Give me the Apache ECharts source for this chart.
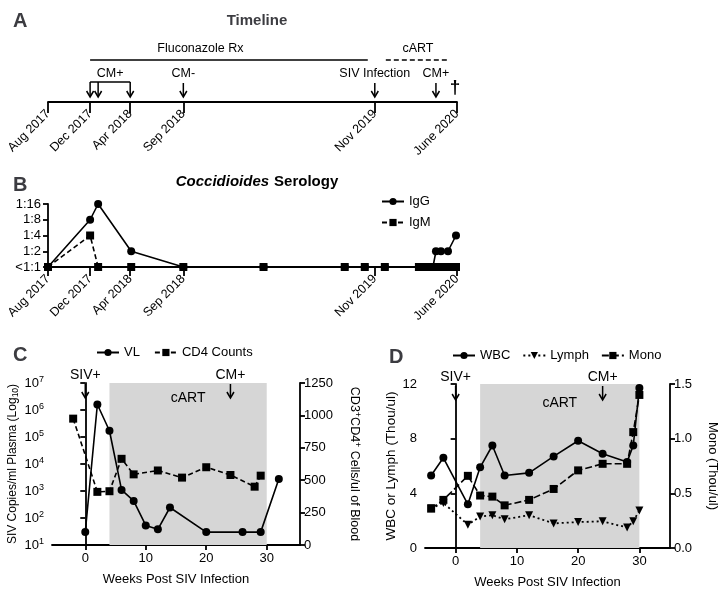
<!DOCTYPE html>
<html>
<head>
<meta charset="utf-8" />
<script src="https://cdn.jsdelivr.net/npm/echarts@6/dist/echarts.min.js"></script>
<style>
  html, body, #main { margin: 0; padding: 0; width: 722px; height: 591px; background: #fff; overflow: hidden; }
</style>
</head>
<body>
<div id="main"></div>
<script>
// ---- panel A / B : timeline positions (Aug 2017 = 0, June 2020 = 408) ----
var timelineTicks = [0, 42, 82, 135, 326, 408];
var timelineLabels = ['Aug 2017', 'Dec 2017', 'Apr 2018', 'Sep 2018', 'Nov 2019', 'June 2020'];
var rxSpans = [[42, 319], [337, 400]];
var rxLabels = ['Fluconazole Rx', 'cART'];
var rxLabelPos = [152, 369];
var cmPosGroup = [42, 50, 82];
var cmPosGroupLabel = 'CM+';
var singleEvents = [135, 326, 387];
var singleEventLabels = ['CM-', 'SIV Infection', 'CM+'];
var deathPos = 406;

// ---- panel B : serology ----
var titerLabels = ['<1:1', '1:2', '1:4', '1:8', '1:16'];
var iggX = [0, 42, 50, 83, 135, 215, 296, 316, 336, 370, 375, 380, 384, 387, 392, 399, 407];
var iggTiter = [0, 3, 4, 1, 0, 0, 0, 0, 0, 0, 0, 0, 0, 1, 1, 1, 2];
var igmX = [0, 42, 50, 83, 135, 215, 296, 316, 336, 370, 374, 378, 382, 386, 390, 394, 398, 402, 407];
var igmTiter = [0, 2, 0, 0, 0, 0, 0, 0, 0, 0, 0, 0, 0, 0, 0, 0, 0, 0, 0];

// ---- panel C : viral load and CD4 ----
var vlWeeks = [0, 2, 4, 6, 8, 10, 12, 14, 20, 26, 29, 32];
var vlCopies = [30, 1.6e6, 1.7e5, 1100, 430, 53, 38, 245, 30, 30, 30, 2800];
var cd4Weeks = [-2, 2, 4, 6, 8, 12, 16, 20, 24, 28, 29];
var cd4Counts = [975, 410, 415, 665, 545, 575, 520, 600, 540, 450, 535];

// ---- panel D : blood counts ----
var cbcWeeks = [-4, -2, 2, 4, 6, 8, 12, 16, 20, 24, 28, 29, 30];
var wbc = [5.3, 6.6, 3.2, 5.9, 7.5, 5.3, 5.5, 6.7, 7.85, 6.9, 6.3, 7.5, 11.7];
var lymph = [2.9, 3.3, 1.7, 2.3, 2.4, 2.1, 2.4, 1.8, 1.9, 1.95, 1.5, 1.95, 2.75];
var mono = [0.36, 0.44, 0.66, 0.48, 0.47, 0.39, 0.44, 0.54, 0.71, 0.77, 0.77, 1.06, 1.40];

var cartWeeks = [4, 30];
var eventWeeks = [0, 24];
var eventLabels = ['SIV+', 'CM+'];
var weekTicks = [0, 10, 20, 30];

var FONT = '"Liberation Sans", Arial, Helvetica, sans-serif';
var myChart = echarts.init(document.getElementById('main'));

function zip(xs, ys) {
  return xs.map(function (x, i) { return [x, ys[i]]; });
}

function arrow(x, y1, y2) {
  // vertical arrow pointing down
  return [
    { type: 'line', shape: { x1: x, y1: y1, x2: x, y2: y2 - 1 }, style: { stroke: '#000', lineWidth: 1.5 } },
    { type: 'polyline', shape: { points: [[x - 3.5, y2 - 6], [x, y2], [x + 3.5, y2 - 6]] }, style: { stroke: '#000', lineWidth: 1.5, fill: null } }
  ];
}

function txt(s, x, y, size, extra) {
  var st = { text: s, x: x, y: y, align: 'center', verticalAlign: 'middle', fill: '#000', font: size + 'px ' + FONT };
  if (extra) for (var k in extra) st[k] = extra[k];
  return { type: 'text', style: st };
}

var blackLine = { color: '#000', width: 1.8 };

function sup(n) { return '{b|10}{e|' + n + '}'; }

var option = {
  animation: false,
  backgroundColor: '#fff',
  textStyle: { fontFamily: FONT, color: '#000' },
  title: [
    { text: 'A', left: 8, top: 6, textStyle: { fontSize: 20, fontWeight: 'bold', fontFamily: FONT } },
    { text: 'Timeline', left: 252, top: 8, textAlign: 'center', textStyle: { fontSize: 15, fontWeight: 'bold', fontFamily: FONT } },
    { text: 'B', left: 8, top: 170, textStyle: { fontSize: 20, fontWeight: 'bold', fontFamily: FONT } },
    { text: '{i|Coccidioides} {b|Serology}', left: 252, top: 168, textAlign: 'center',
      textStyle: { rich: {
        i: { fontSize: 15, fontWeight: 'bold', fontStyle: 'italic', fontFamily: FONT },
        b: { fontSize: 15, fontWeight: 'bold', fontFamily: FONT } } } },
    { text: 'C', left: 8, top: 340, textStyle: { fontSize: 20, fontWeight: 'bold', fontFamily: FONT } },
    { text: 'D', left: 384, top: 342, textStyle: { fontSize: 20, fontWeight: 'bold', fontFamily: FONT } }
  ],
  legend: [
    { data: ['IgG', 'IgM'], orient: 'vertical', left: 376, top: 190, itemWidth: 22, itemHeight: 9, itemGap: 8,
      textStyle: { fontSize: 13, fontFamily: FONT, color: '#000' } },
    { data: ['VL', 'CD4 Counts'], left: 91, top: 341, itemWidth: 22, itemHeight: 9, itemGap: 14,
      textStyle: { fontSize: 13, fontFamily: FONT, color: '#000' } },
    { data: ['WBC', 'Lymph', 'Mono'], left: 447, top: 344, itemWidth: 22, itemHeight: 9, itemGap: 12,
      textStyle: { fontSize: 13, fontFamily: FONT, color: '#000' } }
  ],
  grid: [
    { left: 48, width: 409, top: 40, height: 62 },
    { left: 48, width: 409, top: 204, height: 63 },
    { left: 52, width: 248, top: 383, height: 162 },
    { left: 425, width: 245, top: 384, height: 164 }
  ],
  xAxis: [
    { gridIndex: 0, type: 'value', min: 0, max: 408, axisLine: { show: true, lineStyle: blackLine },
      axisTick: { show: true, length: 11, customValues: timelineTicks, lineStyle: blackLine },
      axisLabel: { customValues: timelineTicks, rotate: 45, margin: 10, color: '#000', fontFamily: FONT, fontSize: 12.5,
        formatter: function (v) { return timelineLabels[timelineTicks.indexOf(v)]; } },
      splitLine: { show: false } },
    { gridIndex: 1, type: 'value', min: 0, max: 408, axisLine: { show: true, onZero: false, lineStyle: blackLine },
      axisTick: { show: true, length: 9, customValues: timelineTicks, lineStyle: blackLine },
      axisLabel: { customValues: timelineTicks, rotate: 45, margin: 10, color: '#000', fontFamily: FONT, fontSize: 12.5,
        formatter: function (v) { return timelineLabels[timelineTicks.indexOf(v)]; } },
      splitLine: { show: false } },
    { gridIndex: 2, type: 'value', min: -5.5, max: 35.5, axisLine: { show: true, onZero: false, lineStyle: blackLine },
      axisTick: { show: true, length: 5, customValues: weekTicks, lineStyle: blackLine },
      axisLabel: { customValues: weekTicks, margin: 7, color: '#000', fontFamily: FONT, fontSize: 13 },
      splitLine: { show: false },
      name: 'Weeks Post SIV Infection', nameLocation: 'middle', nameGap: 28,
      nameTextStyle: { fontSize: 13, fontFamily: FONT, color: '#000' } },
    { gridIndex: 3, type: 'value', min: -5, max: 35, axisLine: { show: true, onZero: false, lineStyle: blackLine },
      axisTick: { show: true, length: 5, customValues: weekTicks, lineStyle: blackLine },
      axisLabel: { customValues: weekTicks, margin: 7, color: '#000', fontFamily: FONT, fontSize: 13 },
      splitLine: { show: false },
      name: 'Weeks Post SIV Infection', nameLocation: 'middle', nameGap: 28,
      nameTextStyle: { fontSize: 13, fontFamily: FONT, color: '#000' } }
  ],
  yAxis: [
    { gridIndex: 0, type: 'value', min: 0, max: 62, show: false },
    { gridIndex: 1, type: 'value', min: 0, max: 4, interval: 1,
      axisLine: { show: true, lineStyle: blackLine }, axisTick: { show: true, length: 5, lineStyle: blackLine },
      axisLabel: { margin: 7, color: '#000', fontFamily: FONT, fontSize: 13, formatter: function (v) { return titerLabels[v]; } },
      splitLine: { show: false } },
    { gridIndex: 2, type: 'log', logBase: 10, min: 10, max: 1e7, interval: 1,
      axisLine: { show: true, lineStyle: blackLine }, axisTick: { show: true, length: 5, lineStyle: blackLine },
      axisLabel: { margin: 8, formatter: function (v) { return sup(Math.round(Math.log10(v))); },
        rich: { b: { fontSize: 13, fontFamily: FONT, color: '#000', lineHeight: 16 },
                e: { fontSize: 9, fontFamily: FONT, color: '#000', verticalAlign: 'top', lineHeight: 16 } } },
      splitLine: { show: false },
      name: 'SIV Copies/ml Plasma (Log{s|10})', nameLocation: 'middle', nameGap: 31, nameRotate: 90,
      nameTextStyle: { fontSize: 12, fontFamily: FONT, color: '#000',
        rich: { s: { fontSize: 8.5, fontFamily: FONT, color: '#000', verticalAlign: 'bottom', lineHeight: 15 } } } },
    { gridIndex: 2, type: 'value', position: 'right', min: 0, max: 1250, interval: 250,
      axisLine: { show: true, lineStyle: blackLine }, axisTick: { show: true, length: 5, lineStyle: blackLine },
      axisLabel: { margin: 4, color: '#000', fontFamily: FONT, fontSize: 13, formatter: function (v) { return String(v); } },
      splitLine: { show: false },
      name: '{n|CD3}{s|+}{n|CD4}{s|+}{n| Cells/ul of Blood}', nameLocation: 'middle', nameGap: 46, nameRotate: -90,
      nameTextStyle: { rich: {
        n: { fontSize: 12.5, fontFamily: FONT, color: '#000', lineHeight: 16 },
        s: { fontSize: 9, fontFamily: FONT, color: '#000', verticalAlign: 'top', lineHeight: 16 } } } },
    { gridIndex: 3, type: 'value', min: 0, max: 12, interval: 4,
      axisLine: { show: true, lineStyle: blackLine }, axisTick: { show: true, length: 5, lineStyle: blackLine },
      axisLabel: { margin: 8, color: '#000', fontFamily: FONT, fontSize: 13 },
      splitLine: { show: false },
      name: 'WBC or Lymph (Thou/ul)', nameLocation: 'middle', nameGap: 23, nameRotate: 90,
      nameTextStyle: { fontSize: 13.5, fontFamily: FONT, color: '#000' } },
    { gridIndex: 3, type: 'value', position: 'right', min: 0, max: 1.5, interval: 0.5,
      axisLine: { show: true, lineStyle: blackLine }, axisTick: { show: true, length: 5, lineStyle: blackLine },
      axisLabel: { margin: 4, color: '#000', fontFamily: FONT, fontSize: 13, formatter: function (v) { return v.toFixed(1); } },
      splitLine: { show: false },
      name: 'Mono (Thou/ul)', nameLocation: 'middle', nameGap: 36, nameRotate: -90,
      nameTextStyle: { fontSize: 13, fontFamily: FONT, color: '#000' } }
  ],
  series: [
    // ---- A: treatment bars ----
    { type: 'custom', xAxisIndex: 0, yAxisIndex: 0, clip: false, silent: true,
      data: rxSpans.map(function (s, i) { return [s[0], s[1], i]; }),
      renderItem: function (params, api) {
        var i = api.value(2);
        var a = api.coord([api.value(0), 42]);
        var b = api.coord([api.value(1), 42]);
        var c = api.coord([rxLabelPos[i], 42]);
        return { type: 'group', children: [
          { type: 'line', shape: { x1: a[0], y1: a[1], x2: b[0], y2: b[1] },
            style: { stroke: '#000', lineWidth: 1.6, lineDash: i === 1 ? [5, 3] : null } },
          txt(rxLabels[i], c[0], a[1] - 11, 12.5)
        ] };
      } },
    // ---- A: grouped CM+ arrows with bracket ----
    { type: 'custom', xAxisIndex: 0, yAxisIndex: 0, clip: false, silent: true,
      data: [[cmPosGroup[0], cmPosGroup[cmPosGroup.length - 1]]],
      renderItem: function (params, api) {
        var kids = [];
        var l = api.coord([api.value(0), 20]);
        var r = api.coord([api.value(1), 20]);
        kids.push({ type: 'line', shape: { x1: l[0], y1: l[1], x2: r[0], y2: r[1] }, style: { stroke: '#000', lineWidth: 1.5 } });
        cmPosGroup.forEach(function (x) {
          var t = api.coord([x, 20]);
          var bt = api.coord([x, 5]);
          kids = kids.concat(arrow(t[0], t[1], bt[1]));
        });
        kids.push(txt(cmPosGroupLabel, (l[0] + r[0]) / 2, api.coord([0, 28])[1], 12.5));
        return { type: 'group', children: kids };
      } },
    // ---- A: single event arrows ----
    { type: 'custom', xAxisIndex: 0, yAxisIndex: 0, clip: false, silent: true,
      data: singleEvents.map(function (x, i) { return [x, i]; }),
      renderItem: function (params, api) {
        var t = api.coord([api.value(0), 19]);
        var bt = api.coord([api.value(0), 5]);
        var lb = api.coord([api.value(0), 28]);
        return { type: 'group', children: arrow(t[0], t[1], bt[1]).concat([txt(singleEventLabels[api.value(1)], lb[0], lb[1], 12.5)]) };
      } },
    // ---- A: death ----
    { type: 'custom', xAxisIndex: 0, yAxisIndex: 0, clip: false, silent: true,
      data: [[deathPos, 14]],
      renderItem: function (params, api) {
        var p = api.coord([api.value(0), api.value(1)]);
        return txt('\u2020', p[0], p[1], 19, { font: 'bold 19px ' + FONT });
      } },
    // ---- B ----
    { name: 'IgG', type: 'line', xAxisIndex: 1, yAxisIndex: 1, data: zip(iggX, iggTiter),
      symbol: 'circle', symbolSize: 8, itemStyle: { color: '#000' }, lineStyle: { color: '#000', width: 1.6 } },
    { name: 'IgM', type: 'line', xAxisIndex: 1, yAxisIndex: 1, data: zip(igmX, igmTiter),
      symbol: 'rect', symbolSize: 8, itemStyle: { color: '#000' }, lineStyle: { color: '#000', width: 1.6, type: [5, 3] } },
    // ---- C ----
    { name: 'VL', type: 'line', xAxisIndex: 2, yAxisIndex: 2, data: zip(vlWeeks, vlCopies),
      symbol: 'circle', symbolSize: 8, itemStyle: { color: '#000' }, lineStyle: { color: '#000', width: 1.6 },
      markArea: { silent: true, itemStyle: { color: '#d6d6d6' },
        label: { show: true, position: 'insideTop', distance: 8, color: '#000', fontSize: 14, fontFamily: FONT },
        data: [[{ xAxis: cartWeeks[0], name: 'cART' }, { xAxis: cartWeeks[1] }]] } },
    { name: 'CD4 Counts', type: 'line', xAxisIndex: 2, yAxisIndex: 3, data: zip(cd4Weeks, cd4Counts),
      symbol: 'rect', symbolSize: 8, itemStyle: { color: '#000' }, lineStyle: { color: '#000', width: 1.6, type: [5, 3] } },
    { type: 'custom', xAxisIndex: 2, yAxisIndex: 3, clip: false, silent: true,
      data: eventWeeks.map(function (w, i) { return [w, 1250, i]; }),
      renderItem: function (params, api) {
        var p = api.coord([api.value(0), api.value(1)]);
        return { type: 'group', children: arrow(p[0], p[1] + 1, p[1] + 15).concat([txt(eventLabels[api.value(2)], p[0], p[1] - 8, 14)]) };
      } },
    // ---- D ----
    { name: 'WBC', type: 'line', xAxisIndex: 3, yAxisIndex: 4, data: zip(cbcWeeks, wbc),
      symbol: 'circle', symbolSize: 8, itemStyle: { color: '#000' }, lineStyle: { color: '#000', width: 1.6 },
      markArea: { silent: true, itemStyle: { color: '#d6d6d6' },
        label: { show: true, position: 'insideTop', distance: 12, color: '#000', fontSize: 14, fontFamily: FONT },
        data: [[{ xAxis: cartWeeks[0], name: 'cART' }, { xAxis: cartWeeks[1] }]] } },
    { name: 'Lymph', type: 'line', xAxisIndex: 3, yAxisIndex: 4, data: zip(cbcWeeks, lymph),
      symbol: 'triangle', symbolRotate: 180, symbolSize: 8, itemStyle: { color: '#000' }, lineStyle: { color: '#000', width: 1.8, type: [2, 3] } },
    { name: 'Mono', type: 'line', xAxisIndex: 3, yAxisIndex: 5, data: zip(cbcWeeks, mono),
      symbol: 'rect', symbolSize: 8, itemStyle: { color: '#000' }, lineStyle: { color: '#000', width: 1.6, type: [7, 3] } },
    { type: 'custom', xAxisIndex: 3, yAxisIndex: 4, clip: false, silent: true,
      data: eventWeeks.map(function (w, i) { return [w, 12, i]; }),
      renderItem: function (params, api) {
        var p = api.coord([api.value(0), api.value(1)]);
        return { type: 'group', children: arrow(p[0], p[1] + 2, p[1] + 16).concat([txt(eventLabels[api.value(2)], p[0], p[1] - 7, 14)]) };
      } }
  ]
};

myChart.setOption(option);
</script>
</body>
</html>
